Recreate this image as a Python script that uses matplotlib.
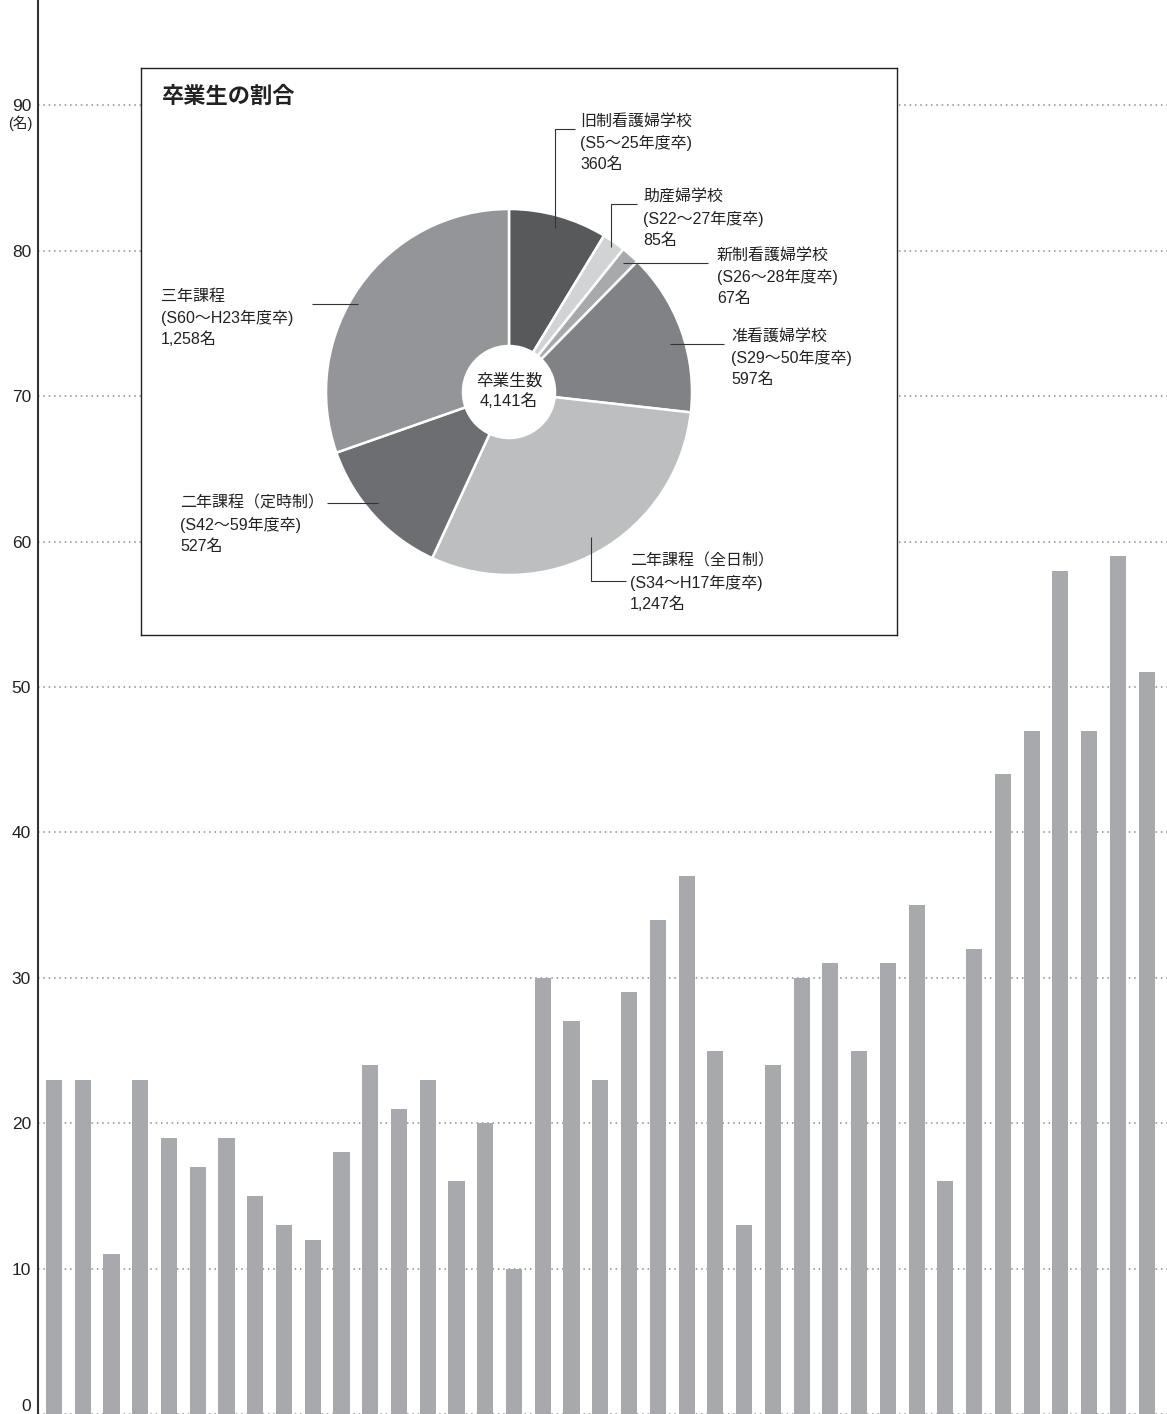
import numpy as np
import matplotlib
matplotlib.use("Agg")
import matplotlib.pyplot as plt

plt.rcParams['font.family'] = ['Liberation Sans', 'Noto Sans CJK JP', 'DejaVu Sans']

# graduates per year (bar chart)
grads = [23, 23, 11, 23, 19, 17, 19, 15, 13, 12, 18, 24, 21, 23, 16, 20, 10,
         30, 27, 23, 29, 34, 37, 25, 13, 24, 30, 31, 25, 31, 35, 16, 32, 44,
         47, 58, 47, 59, 51]
yticks = [0, 10, 20, 30, 40, 50, 60, 70, 80, 90]

# share of graduates (pie)
schools = ['旧制看護婦学校', '助産婦学校', '新制看護婦学校', '准看護婦学校',
           '二年課程（全日制）', '二年課程（定時制）', '三年課程']
periods = ['(S5～25年度卒)', '(S22～27年度卒)', '(S26～28年度卒)', '(S29～50年度卒)',
           '(S34～H17年度卒)', '(S42～59年度卒)', '(S60～H23年度卒)']
counts = [360, 85, 67, 597, 1247, 527, 1258]
pie_colors = ['#58595b', '#d1d3d4', '#a7a9ac', '#808285', '#bcbec0', '#6d6e71', '#939598']

W, H = 1167, 1414
fig = plt.figure(figsize=(W / 100, H / 100), dpi=100)

# ---- main bar chart
ax = fig.add_axes([38 / W, 0, (W - 38) / W, 1])
x = np.arange(len(grads))
ax.bar(x, grads, width=0.56, color='#a7a9ac', zorder=2)
ax.set_xlim(-0.557, 38.71)
ax.set_ylim(0, 97.25)
ax.set_xticks([])
ax.set_yticks(yticks)
ax.set_yticklabels([str(v) for v in yticks], fontsize=12.5, color='#222')
ax.tick_params(axis='y', length=0, pad=5)
ax.get_yticklabels()[0].set_va('bottom')
ax.yaxis.grid(True, color='#8a8a8a', linestyle=(0, (1, 2.5)), linewidth=1.1)
ax.set_axisbelow(True)
for s in ['top', 'right', 'bottom']:
    ax.spines[s].set_visible(False)
ax.spines['left'].set_color('#333')
ax.spines['left'].set_linewidth(1.5)
fig.text(20 / W, 1 - 123 / H, '(名)', fontsize=10.5, ha='center', va='center', color='#222')

# ---- inset pie, data coords = pixels (y measured upward)
bx0, bx1, by0, by1 = 141, 897, 68, 635
ax2 = fig.add_axes([bx0 / W, 1 - by1 / H, (bx1 - bx0) / W, (by1 - by0) / H])
ax2.set_facecolor('white')
cx, cy, R = 509, H - 392, 183
wedges, _ = ax2.pie(counts, colors=pie_colors, startangle=90, counterclock=False,
                    center=(cx, cy), radius=R, frame=True,
                    wedgeprops=dict(width=R - 46, edgecolor='white', linewidth=1.8))
ax2.set_xlim(bx0, bx1)
ax2.set_ylim(H - by1, H - by0)
ax2.set_xticks([])
ax2.set_yticks([])
for s in ax2.spines.values():
    s.set_color('#222')
    s.set_linewidth(1)

ax2.text(162, H - 96, '卒業生の割合', fontsize=16, fontweight='bold', va='center', ha='left', color='#222',
         family=['Noto Sans CJK JP'])
ax2.text(cx, H - 381, '卒業生数', fontsize=12, ha='center', va='center', color='#222')
ax2.text(cx, H - 401, f'{sum(counts):,}名', fontsize=12, ha='center', va='center', color='#222')

# label layout: text left x, first line y (px from top), leader kind, line y, line end x, radius frac
layout = [
    (580, 121, 'v', 129, 575, 0.93),
    (643, 197, 'v', 204, 637, 0.97),
    (717, 255, 'h', 263, 708, 0.94),
    (731, 336, 'h', 344, 724, 0.92),
    (630, 561, 'v', 581, 626, 0.91),
    (180, 503, 'h', 503, 327, 0.94),
    (161, 296, 'h', 304, 312, 0.955),
]
pitch = 21.5
for w, name, per, n, (tx, ty, kind, ly, lx, rf) in zip(wedges, schools, periods, counts, layout):
    mid = np.deg2rad((w.theta1 + w.theta2) / 2)
    r = rf * R
    if kind == 'v':
        ax0, ay0 = cx + r * np.cos(mid), cy + r * np.sin(mid)
        xs = [ax0, ax0, lx]
        ys = [ay0, H - ly, H - ly]
    else:
        dy = (H - ly) - cy
        dx = np.sqrt(max(r ** 2 - dy ** 2, 0)) * np.sign(np.cos(mid))
        xs = [cx + dx, lx]
        ys = [H - ly, H - ly]
    ax2.plot(xs, ys, color='#333', linewidth=0.8, solid_capstyle='butt')
    for k, line in enumerate([name, per, f'{n:,}名']):
        ax2.text(tx, H - (ty + k * pitch), line, fontsize=11.5, ha='left', va='center', color='#222')

fig.savefig('out.png', dpi=100)
